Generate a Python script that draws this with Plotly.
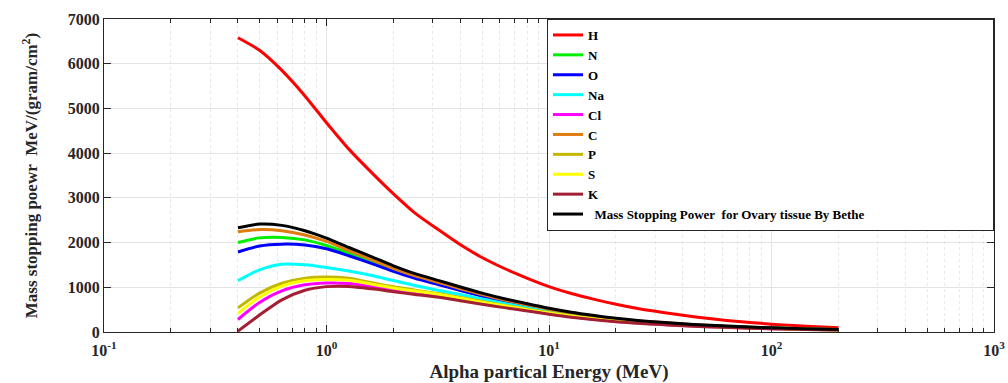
import plotly.graph_objects as go

energy = [0.4, 0.5, 0.63, 0.8, 1, 1.26, 1.6, 2, 2.5, 3.2, 4, 5, 6.3, 8, 10,
          12.6, 16, 20, 25, 32, 40, 50, 63, 80, 100, 126, 160, 200]

H = [6580, 6300, 5850, 5280, 4680, 4090, 3560, 3090, 2660, 2280, 1950, 1665, 1420, 1200, 1015,
     860, 730, 620, 526, 444, 373, 312, 259, 214, 176, 144, 117, 94]
N = [2000, 2105, 2115, 2060, 1935, 1760, 1570, 1385, 1225, 1078, 942, 815, 697, 590, 495,
     412, 343, 285, 241, 204, 173, 146, 124, 105, 89, 75, 64, 54]
O = [1790, 1925, 1965, 1945, 1860, 1705, 1530, 1355, 1200, 1058, 925, 800, 685, 580, 487,
     405, 337, 280, 237, 200, 170, 143, 121, 103, 87, 74, 63, 53]
Na = [1150, 1390, 1515, 1505, 1445, 1365, 1265, 1150, 1040, 930, 840, 740, 640, 545, 460,
      383, 319, 265, 224, 189, 161, 136, 115, 97, 83, 70, 60, 50]
Cl = [280, 660, 920, 1055, 1095, 1085, 1015, 940, 880, 805, 725, 640, 560, 484, 410,
      341, 284, 237, 201, 170, 145, 123, 104, 88, 75, 64, 54, 45]
C = [2240, 2290, 2265, 2170, 2025, 1820, 1615, 1420, 1255, 1108, 968, 838, 717, 606, 510,
     425, 354, 294, 249, 210, 178, 150, 127, 108, 91, 77, 65, 55]
P = [540, 870, 1090, 1205, 1230, 1200, 1100, 1010, 935, 855, 770, 680, 595, 508, 430,
     358, 298, 248, 210, 177, 151, 128, 108, 92, 78, 66, 56, 47]
S = [415, 780, 1025, 1145, 1175, 1155, 1070, 985, 915, 840, 755, 665, 585, 500, 423,
     352, 293, 244, 207, 175, 149, 126, 107, 91, 77, 65, 55, 46]
K = [20, 380, 720, 935, 1015, 1020, 965, 900, 840, 775, 700, 620, 545, 470, 398,
     331, 276, 230, 195, 165, 141, 119, 101, 86, 73, 62, 53, 44]
Ovary = [2330, 2415, 2385, 2265, 2100, 1890, 1680, 1480, 1305, 1150, 1005, 870, 745, 630, 530,
         441, 367, 305, 258, 218, 185, 156, 132, 112, 95, 80, 68, 57]

series_names = ["H", "N", "O", "Na", "Cl", "C", "P", "S", "K",
                "&nbsp;&nbsp;Mass Stopping Power&nbsp; for Ovary tissue By Bethe"]
series_colors = ["#ff0000", "#00ee00", "#0000ff", "#00ffff", "#ff00ff",
                 "#e07b10", "#c2b800", "#ffff00", "#a31f34", "#000000"]

x_tickvals = [0.1, 1, 10, 100, 1000]
x_ticktext = ["10<sup>-1</sup>", "10<sup>0</sup>", "10<sup>1</sup>", "10<sup>2</sup>", "10<sup>3</sup>"]
x_minorvals = [m * 10 ** d for d in (-1, 0, 1, 2) for m in range(2, 10)]
y_tickvals = [0, 1000, 2000, 3000, 4000, 5000, 6000, 7000]

FONT = "Liberation Serif"
INK = "#262626"
LEGEND_PAD = "&nbsp;" * 38

fig = go.Figure()
data = [H, N, O, Na, Cl, C, P, S, K, Ovary]
for i, (name, color, vals) in enumerate(zip(series_names, series_colors, data)):
    label = f"<b>{name}</b>" + (LEGEND_PAD if i == len(data) - 1 else "")
    fig.add_trace(go.Scatter(
        x=energy, y=vals, mode="lines", name=label,
        line=dict(color=color, width=3, shape="spline", smoothing=0.7),
    ))

axis_common = dict(
    showline=True, linecolor=INK, linewidth=1, mirror="ticks",
    ticks="inside", tickcolor=INK, automargin=False,
    showgrid=True, gridcolor="#e3e3e3", gridwidth=1,
    zeroline=False,
    tickfont=dict(family=FONT, size=16, color=INK),
)

fig.update_xaxes(
    type="log", range=[-1, 3],
    tickvals=x_tickvals, ticktext=[f"<b>{t}</b>" for t in x_ticktext], ticklen=7,
    ticklabelstandoff=4,
    minor=dict(tickvals=x_minorvals, ticks="inside", ticklen=4, tickcolor=INK,
               showgrid=True, gridcolor="#e8e8e8", griddash="dot"),
    title=dict(text="<b>Alpha partical Energy (MeV)</b>",
               font=dict(family=FONT, size=19, color=INK), standoff=8),
    **axis_common,
)
fig.update_yaxes(
    range=[0, 7000], tickvals=y_tickvals,
    ticktext=[f"<b>{v}</b>" for v in y_tickvals], ticklen=7,
    title=dict(text="<b>Mass stopping poewr&nbsp; MeV/(gram/cm<sup>2</sup>)</b>",
               font=dict(family=FONT, size=17, color=INK), standoff=25),
    **axis_common,
)

fig.update_layout(
    width=1008, height=383,
    margin=dict(l=104, r=14, t=19, b=51, autoexpand=False),
    paper_bgcolor="white", plot_bgcolor="white",
    showlegend=True,
    legend=dict(
        x=1, y=1, xanchor="right", yanchor="top",
        bgcolor="white", bordercolor=INK, borderwidth=1,
        font=dict(family=FONT, size=13, color="black"),
        tracegroupgap=0, maxheight=360, itemwidth=30,
    ),
    font=dict(family=FONT),
)

fig.write_html("out.html", config={"displayModeBar": False},
               post_script="document.body.style.margin='0';")
